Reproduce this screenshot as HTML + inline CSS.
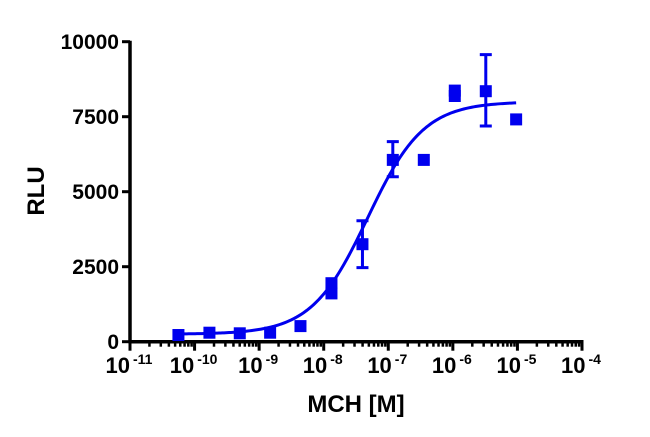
<!DOCTYPE html>
<html><head><meta charset="utf-8"><style>
html,body{margin:0;padding:0;background:#fff;}
svg{display:block;font-family:"Liberation Sans",Arial,sans-serif;font-weight:bold;}
</style></head><body>
<svg id="chart" width="650" height="437" viewBox="0 0 650 437">
<g id="axes"></g><g id="curve"></g><g id="points"></g>
</svg>
<script>
const logX = [-10.25,-9.77,-9.30,-8.83,-8.36,-7.88,-7.88,-7.40,-6.93,-6.45,-5.97,-5.97,-5.49,-5.02];
const rlu  = [223,300,280,300,520,1950,1610,3250,6060,6060,8370,8190,8350,7410];
const errLow  = [null,null,null,null,null,null,null,2470,5500,null,null,null,7190,null];
const errHigh = [null,null,null,null,null,null,null,4030,6670,null,null,null,9570,null];
const yTicks = [0,2500,5000,7500,10000];
const xDecades = [-11,-10,-9,-8,-7,-6,-5,-4];
const fitBottom = 250, fitTop = 8000, fitLogEC50 = -7.32, fitHill = 1.0;

const NS="http://www.w3.org/2000/svg";
const X0=130, X1=582, Y0=341.7, Y1=41.7;
const xs = v => X0 + (v - (-11)) / 7 * (X1 - X0);
const ys = v => Y0 - v / 10000 * (Y0 - Y1);
function mk(tag, attrs, parent){const e=document.createElementNS(NS,tag);for(const k in attrs)e.setAttribute(k,attrs[k]);parent.appendChild(e);return e;}
const axes=document.getElementById('axes'), curveG=document.getElementById('curve'), ptsG=document.getElementById('points');

let yAxis = mk('line',{x1:X0,y1:Y1-1,x2:X0,y2:Y0+1.5,stroke:'#000','stroke-width':3.5},axes);


let xAxis = mk('line',{x1:X0-1.5,y1:Y0,x2:X1+1.5,y2:Y0,stroke:'#000','stroke-width':3.5},axes);



yTicks.forEach(t=>{
  const y=ys(t);
  const tk=mk('line',{x1:X0-8,y1:y,x2:X0,y2:y,stroke:'#000','stroke-width':3},axes);
  
  
  const tx=mk('text',{x:X0-11,y:y+7.5,'text-anchor':'end','font-size':21},axes);
  tx.textContent=t;
  
  
});

xDecades.forEach((d,i)=>{
  const x=xs(d);
  const tk=mk('line',{x1:x,y1:Y0,x2:x,y2:Y0+9,stroke:'#000','stroke-width':3},axes);
  
  
  if(i<xDecades.length-1){
    for(let m=2;m<=9;m++){
      const mx=xs(d+Math.log10(m));
      const mt=mk('line',{x1:mx,y1:Y0,x2:mx,y2:Y0+5,stroke:'#000','stroke-width':2.5},axes);
      
      
    }
  }
  const tx=mk('text',{x:x-1,y:373,'text-anchor':'middle','font-size':22},axes);
  
  
  tx.textContent='10';
  const sp=document.createElementNS(NS,'tspan');
  sp.setAttribute('dy','-9');sp.setAttribute('font-size','14');sp.setAttribute('dx','3');
  sp.textContent=String(d);
  tx.appendChild(sp);
});

const xt=mk('text',{x:356,y:412,'text-anchor':'middle','font-size':24},axes);
xt.textContent='MCH [M]';


const yt=mk('text',{x:0,y:0,'text-anchor':'middle','font-size':24,transform:'translate(44,191) rotate(-90)'},axes);
yt.textContent='RLU';



const lo=Math.min(...logX), hi=Math.max(...logX);
let d='';
for(let i=0;i<=200;i++){
  const lx=lo+(hi-lo)*i/200;
  const v=fitBottom+(fitTop-fitBottom)/(1+Math.pow(10,(fitLogEC50-lx)*fitHill));
  d+=(i?'L':'M')+xs(lx).toFixed(2)+','+ys(v).toFixed(2);
}
const cv=mk('path',{d:d,fill:'none',stroke:'#0000ee','stroke-width':3},curveG);



logX.forEach((lx,i)=>{
  const x=xs(lx), y=ys(rlu[i]);
  if(errLow[i]!==null){
    const e=mk('path',{d:`M${x},${ys(errLow[i])}L${x},${ys(errHigh[i])}M${x-6},${ys(errLow[i])}L${x+6},${ys(errLow[i])}M${x-6},${ys(errHigh[i])}L${x+6},${ys(errHigh[i])}`,stroke:'#0000ee','stroke-width':3,fill:'none'},ptsG);
    
    
  }
  const r=mk('rect',{x:x-6,y:y-6,width:12,height:12,fill:'#0000ee'},ptsG);
  
  
});
</script>
</body></html>
